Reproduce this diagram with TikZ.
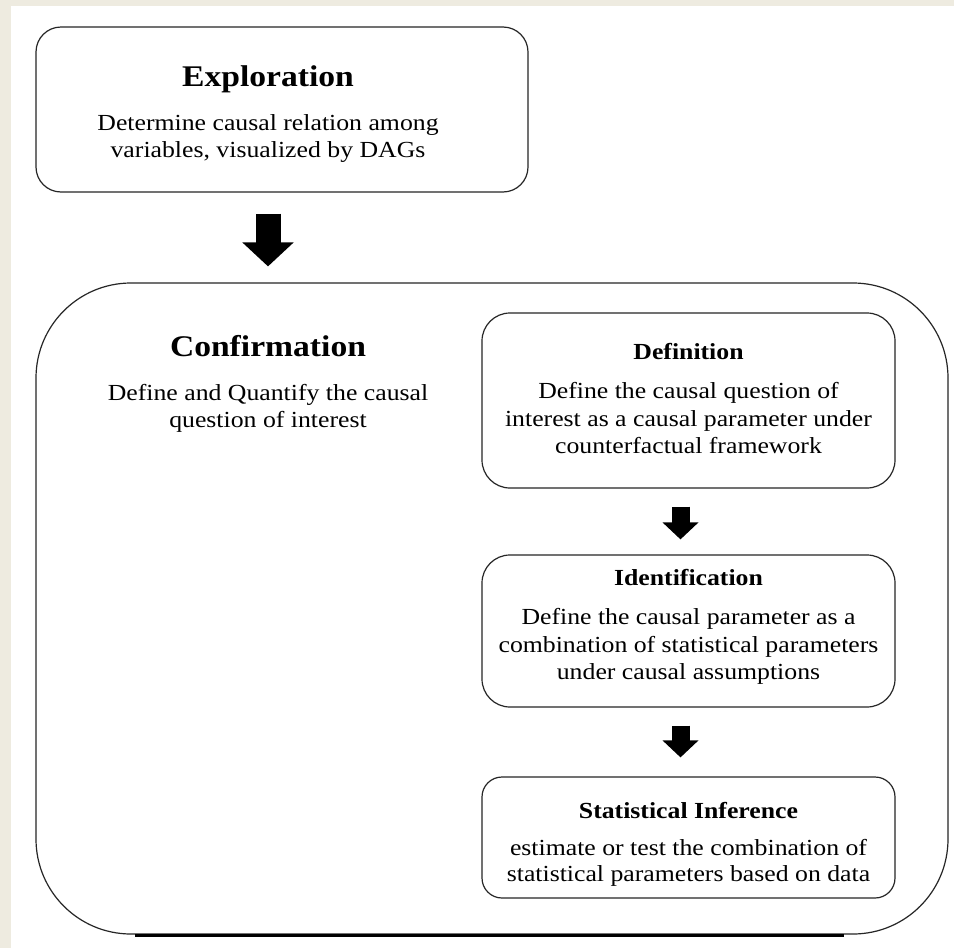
\documentclass[tikz,border=0pt]{standalone}
\usepackage{fontspec}
\setmainfont{Liberation Serif}[FakeStretch=1.12]
\usepackage{tikz}
\usetikzlibrary{arrows.meta}
\usepackage{xcolor}
\definecolor{paper}{RGB}{238,235,224}

\begin{document}
\begin{tikzpicture}[x=1pt, y=-1pt,
		box/.style={draw=black!85, line width=1.2pt, rectangle, rounded corners=#1, inner sep=0pt},
		body/.style={align=center, font=\fontsize{23}{27.5}\selectfont},
		bigarrow/.style={line width=25pt, -{Triangle[width=50pt,length=24pt]}},
		smallarrow/.style={line width=18pt, -{Triangle[width=35pt,length=17pt]}}]
						\fill[paper] (0, 0) rectangle (954, 948);
						\fill[white] (11, 6) rectangle (954, 948);
						\useasboundingbox (0, 0) rectangle (954, 948);
						\node[box=25pt, minimum width=492pt, minimum height=165pt] (expl) at (282, 109.5) {};
						\node[body] (expltxt) at (268, 114.5) {{\fontsize{30}{34}\bfseries Exploration}\\[16pt] Determine causal relation among\\ variables, visualized by DAGs};
						\node[box=95pt, minimum width=912pt, minimum height=651pt] (conf) at (492, 608.5) {};
						\node[body] (conftxt) at (268, 384) {{\fontsize{30}{34}\bfseries Confirmation}\\[16pt] Define and Quantify the causal\\ question of interest};
						\draw[line width=3pt] ([xshift=100pt, yshift=-1pt]conf.south west) -- ([xshift=-105pt, yshift=-1pt]conf.south east);
						\node[box=28pt, minimum width=413pt, minimum height=175pt] (def) at (688.5, 400.5) {};
						\node[body] (deftxt) at (688.5, 398.5) {\textbf{Definition}\\[12pt] Define the causal question of\\ interest as a causal parameter under\\ counterfactual framework};
						\node[box=28pt, minimum width=413pt, minimum height=152pt] (ident) at (688.5, 631) {};
						\node[body] (identtxt) at (688.5, 627) {\textbf{Identification}\\[12pt] Define the causal parameter as a\\ combination of statistical parameters\\ under causal assumptions};
						\node[box=20pt, minimum width=413pt, minimum height=121pt] (stat) at (688.5, 837.5) {};
						\node[body, font=\fontsize{23}{26}\selectfont] (stattxt) at (688.5, 844.5) {\textbf{Statistical Inference}\\[11pt] estimate or test the combination of\\ statistical parameters based on data};
						\draw[bigarrow, shorten <=21pt, shorten >=16pt] (expltxt |- expl.south) -- (expltxt |- conf.north);
						\draw[smallarrow, shorten <=18pt, shorten >=15pt] ([xshift=-8pt]def.south) -- ([xshift=-8pt]ident.north);
						\draw[smallarrow, shorten <=18pt, shorten >=19pt] ([xshift=-8pt]ident.south) -- ([xshift=-8pt]stat.north);
					\end{tikzpicture}
\end{document}
